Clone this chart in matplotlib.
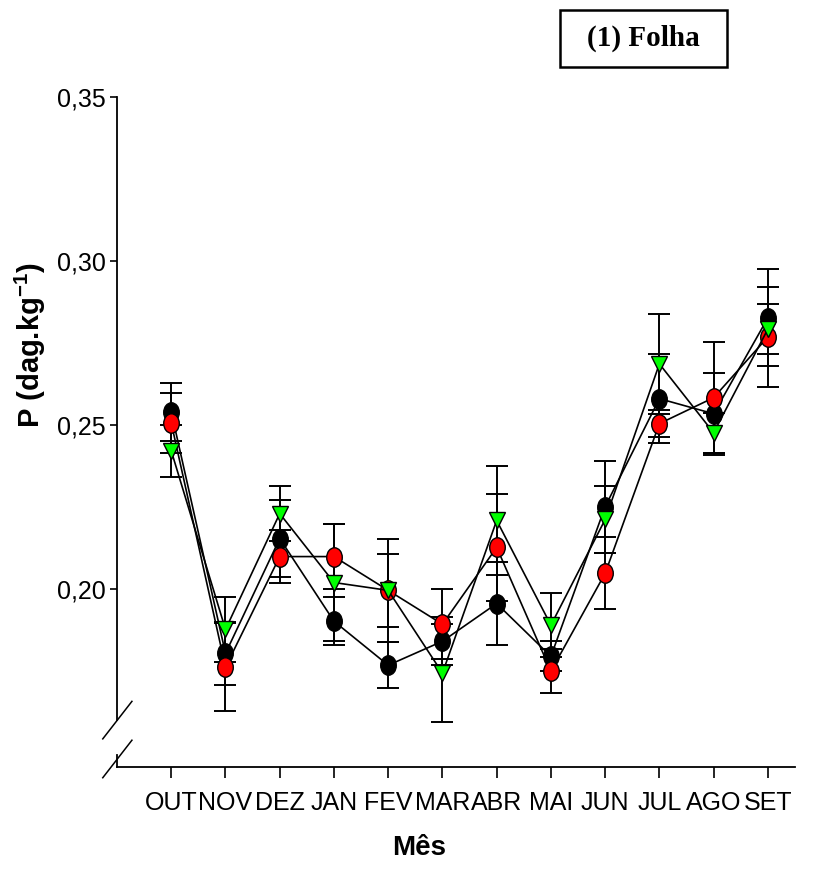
import numpy as np
import matplotlib
matplotlib.use("Agg")
import matplotlib.pyplot as plt
from matplotlib.path import Path
from matplotlib.patches import Rectangle

plt.rcParams['font.family'] = ['Liberation Sans', 'DejaVu Sans']
plt.rcParams['mathtext.fontset'] = 'custom'
plt.rcParams['mathtext.rm'] = 'Liberation Sans'
plt.rcParams['mathtext.bf'] = 'Liberation Sans:bold'

meses = ['OUT', 'NOV', 'DEZ', 'JAN', 'FEV', 'MAR', 'ABR', 'MAI', 'JUN', 'JUL', 'AGO', 'SET']

# P foliar (dag/kg) e erro padrão por série
p_preto = [0.2541, 0.1805, 0.2155, 0.1903, 0.1769, 0.1842, 0.1957, 0.1796, 0.2252, 0.2581, 0.2535, 0.2827]
err_preto = [0.0088, 0.0095, 0.0116, 0.0073, 0.0070, 0.0073, 0.0126, 0.0046, 0.0140, 0.0136, 0.0125, 0.0148]

p_vermelho = [0.2507, 0.1763, 0.2100, 0.2100, 0.1997, 0.1894, 0.2128, 0.1751, 0.2049, 0.2505, 0.2584, 0.2769]
err_vermelho = [0.0090, 0.0134, 0.0082, 0.0099, 0.0110, 0.0106, 0.0164, 0.0067, 0.0110, 0.0041, 0.0170, 0.0151]

p_verde = [0.2422, 0.1878, 0.2231, 0.2021, 0.1997, 0.1745, 0.2210, 0.1891, 0.2213, 0.2687, 0.2477, 0.2793]
err_verde = [0.0079, 0.0099, 0.0085, 0.0177, 0.0158, 0.0150, 0.0167, 0.0097, 0.0103, 0.0153, 0.0061, 0.0076]

# marcador elíptico (um pouco mais alto que largo)
circ = Path.unit_circle()
elipse = Path(circ.vertices * np.array([0.8, 1.0]), circ.codes)

fig = plt.figure(figsize=(8.2, 8.8), dpi=100)
ax = fig.add_axes([0.1427, 0.1284, 0.8268, 0.7614])

x = np.arange(len(meses))
series = [
    (p_preto, err_preto, 'black', elipse, 14),
    (p_vermelho, err_vermelho, 'red', elipse, 14),
    (p_verde, err_verde, '#00FF00', 'v', 12),
]
for y, e, cor, mk, ms in series:
    ax.errorbar(x, y, yerr=e, fmt='none', ecolor='black', elinewidth=1.4,
                capsize=8, capthick=1.4, zorder=2)
for y, e, cor, mk, ms in series:
    ax.plot(x, y, color='black', lw=1.2, marker=mk, markersize=ms,
            markerfacecolor=cor, markeredgecolor='black', markeredgewidth=1.0,
            zorder=3)

ax.set_xlim(-1.0, 11.5)
ax.set_ylim(0.1459, 0.35)
ax.set_yticks([0.20, 0.25, 0.30, 0.35])
ax.set_yticklabels(['0,20', '0,25', '0,30', '0,35'], fontsize=18)
ax.set_xticks(x)
ax.set_xticklabels(meses, fontsize=18)
ax.tick_params(axis='x', direction='out', length=8, width=1.2, pad=9)
ax.tick_params(axis='y', direction='out', length=5, width=1.2, pad=3)

for s in ['top', 'right', 'left']:
    ax.spines[s].set_visible(False)
ax.spines['bottom'].set_linewidth(1.3)

# eixo y com quebra
tr = ax.transAxes
ax.plot([0, 0], [0.070, 1.0], color='black', lw=1.3, transform=tr, clip_on=False)
ax.plot([0, 0], [0.0, 0.018], color='black', lw=1.3, transform=tr, clip_on=False)
for yc in [0.070, 0.012]:
    ax.plot([-0.021, 0.022], [yc - 0.028, yc + 0.028], color='black', lw=1.1,
            transform=tr, clip_on=False)

fig.text(30 / 820, 1 - 345 / 880, 'P (dag.kg$^{\\mathbf{-1}}$)', rotation=90,
         ha='center', va='center', fontsize=21, fontweight='bold')
fig.text(0.511, 1 - 848 / 880, 'Mês', ha='center', va='center', fontsize=20, fontweight='bold')

# caixa do título
fig.patches.append(Rectangle((560 / 820, 1 - 67 / 880), 167 / 820, 57 / 880,
                             transform=fig.transFigure, fill=False,
                             edgecolor='black', lw=1.8))
fig.text(643 / 820, 1 - 38 / 880, '(1) Folha', ha='center', va='center',
         fontsize=21, fontweight='bold', family=['Liberation Serif', 'DejaVu Serif'])

fig.savefig('out.png', dpi=100)
